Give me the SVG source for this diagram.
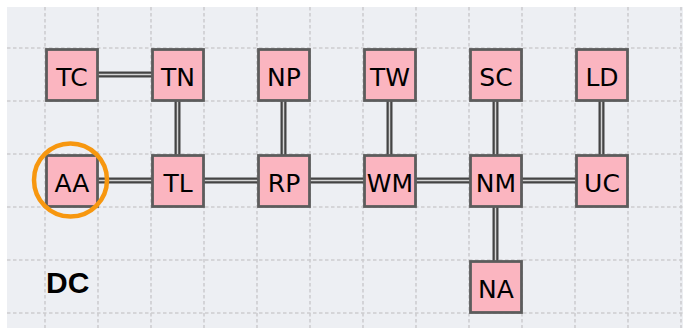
<svg xmlns="http://www.w3.org/2000/svg" width="686" height="328" viewBox="0 0 686 328">
  <style>
    .grid line { stroke: #cdcdd0; stroke-width: 1.6; stroke-dasharray: 3.5 2.5; }
    .node rect { fill: #fbb5c0; stroke: #5c5c5c; stroke-width: 2.8; }
    .node text { font-family: "DejaVu Sans", sans-serif; font-size: 25px; fill: #000; text-anchor: middle; }
    .edge-outer { stroke: #444444; stroke-width: 6; fill: none; }
    .edge-inner { stroke: #d4d4d4; stroke-width: 1.5; fill: none; }
    .label { font-family: "Liberation Sans", Arial, sans-serif; font-weight: bold; font-size: 30px; fill: #000; }
  </style>
  <defs>
    <path id="conns" d="M97 74.5H152 M177.5 100V155 M283.5 100V155 M389.5 100V155 M495.5 100V155 M601.5 100V155 M97 180.5H152 M203 180.5H258 M309 180.5H364 M415 180.5H470 M521 180.5H576 M495.5 206V261"/>
  </defs>
  <rect x="0" y="0" width="686" height="328" fill="#ffffff"/>
  <rect x="7" y="7" width="676" height="321" fill="#edeff3"/>
  <g class="grid">
    <line x1="45" y1="7" x2="45" y2="328"/>
    <line x1="98" y1="7" x2="98" y2="328"/>
    <line x1="151" y1="7" x2="151" y2="328"/>
    <line x1="204" y1="7" x2="204" y2="328"/>
    <line x1="257" y1="7" x2="257" y2="328"/>
    <line x1="310" y1="7" x2="310" y2="328"/>
    <line x1="363" y1="7" x2="363" y2="328"/>
    <line x1="416" y1="7" x2="416" y2="328"/>
    <line x1="469" y1="7" x2="469" y2="328"/>
    <line x1="522" y1="7" x2="522" y2="328"/>
    <line x1="575" y1="7" x2="575" y2="328"/>
    <line x1="628" y1="7" x2="628" y2="328"/>
    <line x1="681" y1="7" x2="681" y2="328"/>
    <line x1="7" y1="48" x2="683" y2="48"/>
    <line x1="7" y1="101" x2="683" y2="101"/>
    <line x1="7" y1="154" x2="683" y2="154"/>
    <line x1="7" y1="207" x2="683" y2="207"/>
    <line x1="7" y1="260" x2="683" y2="260"/>
    <line x1="7" y1="313" x2="683" y2="313"/>
  </g>
  <g id="connectors">
    <use href="#conns" class="edge-outer"/>
    <use href="#conns" class="edge-inner"/>
  </g>
  <g id="TC" class="node"><rect x="46.5" y="49.5" width="51" height="51"/><text x="72" y="85.5">TC</text></g>
  <g id="TN" class="node"><rect x="152.5" y="49.5" width="51" height="51"/><text x="178" y="85.5">TN</text></g>
  <g id="NP" class="node"><rect x="258.5" y="49.5" width="51" height="51"/><text x="284" y="85.5">NP</text></g>
  <g id="TW" class="node"><rect x="364.5" y="49.5" width="51" height="51"/><text x="390" y="85.5">TW</text></g>
  <g id="SC" class="node"><rect x="470.5" y="49.5" width="51" height="51"/><text x="496" y="85.5">SC</text></g>
  <g id="LD" class="node"><rect x="576.5" y="49.5" width="51" height="51"/><text x="602" y="85.5">LD</text></g>
  <g id="AA" class="node"><rect x="46.5" y="155.5" width="51" height="51"/><text x="72" y="191.5">AA</text></g>
  <g id="TL" class="node"><rect x="152.5" y="155.5" width="51" height="51"/><text x="178" y="191.5">TL</text></g>
  <g id="RP" class="node"><rect x="258.5" y="155.5" width="51" height="51"/><text x="284" y="191.5">RP</text></g>
  <g id="WM" class="node"><rect x="364.5" y="155.5" width="51" height="51"/><text x="390" y="191.5">WM</text></g>
  <g id="NM" class="node"><rect x="470.5" y="155.5" width="51" height="51"/><text x="496" y="191.5">NM</text></g>
  <g id="UC" class="node"><rect x="576.5" y="155.5" width="51" height="51"/><text x="602" y="191.5">UC</text></g>
  <g id="NA" class="node"><rect x="470.5" y="261.5" width="51" height="51"/><text x="496" y="297.5">NA</text></g>
  <circle id="highlight" cx="70.5" cy="180" r="36.5" fill="none" stroke="#f7970f" stroke-width="4.5"/>
  <text class="label" x="46" y="293">DC</text>
</svg>
